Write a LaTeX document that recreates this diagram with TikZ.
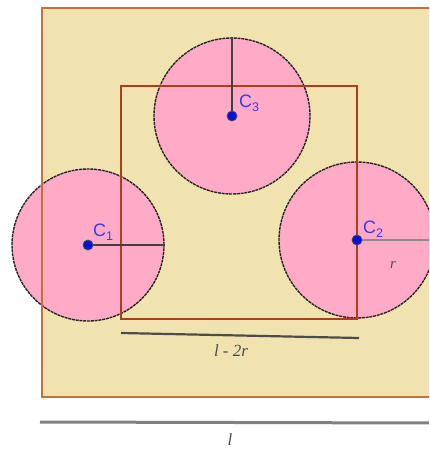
\documentclass[tikz,border=0pt]{standalone}
\usepackage{fontspec}
\setmainfont{Liberation Serif}
\setsansfont{Liberation Sans}
\definecolor{sand}{HTML}{F0E3AF}
\definecolor{outerline}{HTML}{C8703C}
\definecolor{innerline}{HTML}{A8401C}
\definecolor{petal}{HTML}{FFAAC6}
\definecolor{lblblue}{HTML}{3A3AF0}
\definecolor{dotblue}{HTML}{0010E0}
\tikzset{
  disc/.style={circle, inner sep=0pt, fill=petal, draw=black!85, line width=1.4pt, dash pattern=on 3pt off 0.8pt},
  centre/.style={circle, inner sep=0pt, minimum size=10pt, fill=dotblue, draw=black!70, line width=0.8pt},
  clabel/.style={anchor=base west, inner sep=0pt, text=lblblue, font=\sffamily\fontsize{18}{18}\selectfont},
  radius/.style={line width=1.6pt, draw=black!75},
  dimlbl/.style={inner sep=0pt, text=black!70, font=\itshape\fontsize{17}{17}\selectfont},
}
\newcommand{\subsc}[1]{\raisebox{-4pt}{\fontsize{12.5}{12.5}\selectfont #1}}
\begin{document}
\begin{tikzpicture}[x=1pt,y=-1pt]
\useasboundingbox (0,0) rectangle (429,450);
\clip (0,0) rectangle (429,450);
% outer square
\coordinate (oNW) at (42,8);
\coordinate (oSE) at (432,397);
\fill[sand] (oNW) rectangle (oSE);
% circles
\node[disc, minimum size=152pt] (c1) at (88,245) {};
\node[disc, minimum size=156pt] (c2) at (357,240) {};
\node[disc, minimum size=156pt] (c3) at (232,116) {};
% rectangles
\draw[outerline, line width=1.5pt] (oNW) rectangle (oSE);
\coordinate (iNW) at (121,86);
\coordinate (iSE) at (357,319);
\draw[innerline, line width=2pt] (iNW) rectangle (iSE);
% radii
\draw[radius] (c1.center) -- (c1.east);
\draw[radius] (c3.center) -- (c3.north);
\draw[line width=1.6pt, draw=black!45] (c2.center) -- (c2.east);
% centres
\node[centre] (d1) at (c1.center) {};
\node[centre] (d2) at (c2.center) {};
\node[centre] (d3) at (c3.center) {};
\node[clabel] (l1) at (93,236) {C\subsc{1}};
\node[clabel] (l2) at (363,233) {C\subsc{2}};
\node[clabel] (l3) at (239,107) {C\subsc{3}};
\node[dimlbl, font=\itshape\fontsize{15}{15}\selectfont] (rl) at (393,265) {r};
% dimension lines
\coordinate (a1) at (121,333);
\coordinate (a2) at (359,338);
\draw[line width=2.2pt, draw=black!70] (a1) -- (a2);
\node[dimlbl] (dl) at (231,351) {l - 2r};
\coordinate (b1) at (40,422);
\coordinate (b2) at (432,423);
\draw[line width=3pt, draw=black!50] (b1) -- (b2);
\node[dimlbl] (bl) at (230,440) {l};
\end{tikzpicture}
\end{document}
